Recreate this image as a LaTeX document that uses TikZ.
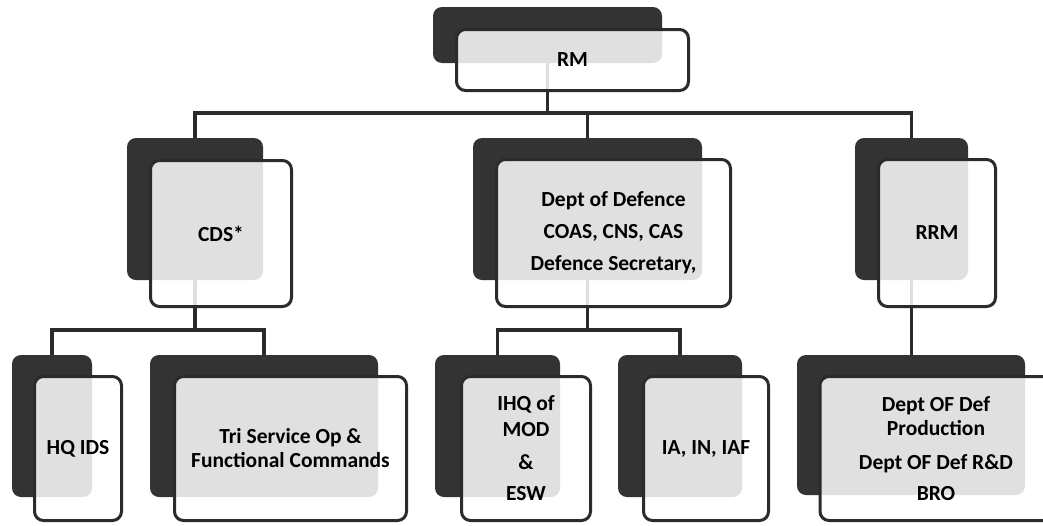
\documentclass[tikz,border=0pt]{standalone}
\usepackage{fontspec}
\setmainfont{Carlito}
\usetikzlibrary{positioning}

\definecolor{boxdark}{HTML}{333333}
\definecolor{boxline}{HTML}{2B2B2B}

\pgfdeclarelayer{bg}
\pgfsetlayers{bg,main}

\begin{document}
\begin{tikzpicture}[x=1pt, y=-1pt,
    back/.style={rectangle, rounded corners=9pt, fill=boxdark, inner sep=0pt},
    front/.style={rectangle, rounded corners=9pt, draw=boxline, line width=3pt,
        fill=white, fill opacity=0.85, text opacity=1, inner sep=0pt, align=center,
        font=\bfseries\fontsize{21.5}{24}\selectfont},
    conn/.style={draw=boxline, line width=3.2pt}]
    \useasboundingbox (0,0) rectangle (1043,525);

    % Back boxes {RMb, CDSb, DoDb, RRMb, etc}
    \node [back, minimum width=229pt, minimum height=56pt]  (RMb)  at (547.5,35)  {};
    \node [back, minimum width=136pt, minimum height=142pt] (CDSb) at (195,209)   {};
    \node [back, minimum width=229pt, minimum height=142pt] (DoDb) at (587.5,209) {};
    \node [back, minimum width=113pt, minimum height=142pt] (RRMb) at (911.5,209) {};
    \node [back, minimum width=80pt,  minimum height=142pt] (HQb)  at (52,426)    {};
    \node [back, minimum width=228pt, minimum height=142pt] (Trib) at (264,426)   {};
    \node [back, minimum width=125pt, minimum height=142pt] (IHQb) at (497.5,426) {};
    \node [back, minimum width=124pt, minimum height=142pt] (IAb)  at (680,426)   {};
    \node [back, minimum width=228pt, minimum height=140pt] (DPb)  at (911,425)   {};

    % Front boxes {RM, CDS, DoD, RRM, etc}
    \node [front, minimum width=232pt, minimum height=61pt]  (RM)  at (572.5,60)  {RM};
    \node [front, minimum width=141pt, minimum height=146pt] (CDS) at (221,233.5) {CDS*};
    \node [front, minimum width=234pt, minimum height=147pt] (DoD) at (613.5,233)
        {Dept of Defence\\[8pt]COAS, CNS, CAS\\[8pt]Defence Secretary,};
    \node [front, minimum width=117pt, minimum height=147pt] (RRM) at (937,233)   {RRM};
    \node [front, minimum width=87pt,  minimum height=144pt] (HQ)  at (78,448.5)  {HQ IDS};
    \node [front, minimum width=232pt, minimum height=144pt] (Tri) at (290.5,448.5)
        {Tri Service Op \&\\Functional Commands};
    \node [front, minimum width=129pt, minimum height=144pt] (IHQ) at (526,448.5)
        {IHQ of\\[2pt]MOD\\[9pt]\&\\[7pt]ESW};
    \node [front, minimum width=125pt, minimum height=144pt] (IA)  at (706,448.5) {IA, IN, IAF};
    \node [front, minimum width=232pt, minimum height=144pt] (DP)  at (936,448.5)
        {Dept OF Def\\Production\\[10pt]Dept OF Def R\&D\\[7pt]BRO};

    % Paths
    \coordinate (lvl1) at (0,113);
    \coordinate (lvl2) at (0,330);
    \begin{pgfonlayer}{bg}
    \draw [conn] (RMb.south) -- (RMb.south |- lvl1);
    \draw [conn] (CDSb.north) -- (CDSb.north |- lvl1) -- (RRMb.north |- lvl1) -- (RRMb.north);
    \draw [conn] (DoDb.north) -- (DoDb.north |- lvl1);
    \draw [conn] (CDSb.south) -- (CDSb.south |- lvl2);
    \draw [conn] (HQb.north) -- (HQb.north |- lvl2) -- (Trib.north |- lvl2) -- (Trib.north);
    \draw [conn] (DoDb.south) -- (DoDb.south |- lvl2);
    \draw [conn] (IHQb.north) -- (IHQb.north |- lvl2) -- (IAb.north |- lvl2) -- (IAb.north);
    \draw [conn] (RRMb.south) -- (RRMb.south |- DPb.north);
    \end{pgfonlayer}

\end{tikzpicture}
\end{document}
